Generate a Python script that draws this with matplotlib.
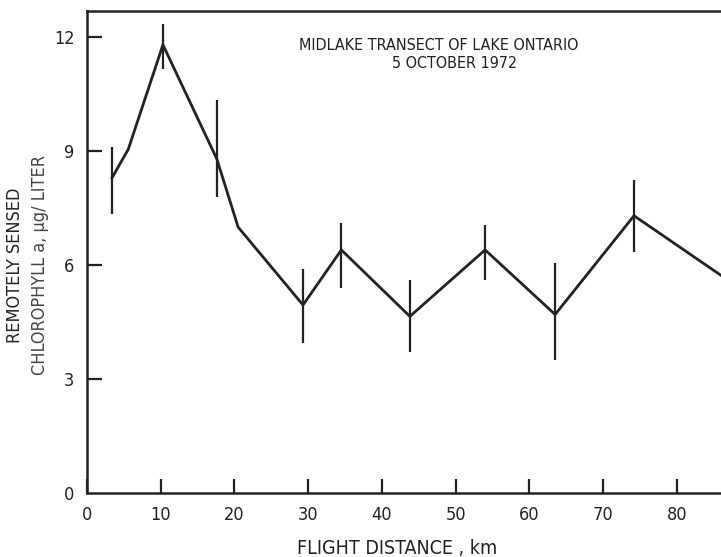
import matplotlib
matplotlib.use('Agg')
import matplotlib.pyplot as plt

# traced line (flight distance km, chlorophyll ug/l)
line_km = [3.4, 5.6, 10.3, 17.6, 20.5, 29.3, 34.5, 43.8, 54.0, 63.5, 74.2, 86.0]
line_chl = [8.3, 9.05, 11.8, 8.8, 7.0, 4.95, 6.4, 4.65, 6.4, 4.7, 7.3, 5.73]

# error bars at the measured stations
bar_km = [3.4, 10.3, 17.6, 29.3, 34.5, 43.8, 54.0, 63.5, 74.2]
bar_hi = [9.1, 12.35, 10.35, 5.9, 7.1, 5.6, 7.05, 6.05, 8.25]
bar_lo = [7.35, 11.15, 7.8, 3.95, 5.4, 3.7, 5.6, 3.5, 6.35]

xticks = [0, 10, 20, 30, 40, 50, 60, 70, 80]
yticks = [0, 3, 6, 9, 12]

plt.rcParams['font.family'] = ['DejaVu Sans']
plt.rcParams['font.stretch'] = 'condensed'
ink = '#222222'

fig = plt.figure(figsize=(7.21, 5.57), dpi=100)
ax = fig.add_axes([87 / 721, 1 - 493 / 557, 1 - 87 / 721, (493 - 11) / 557])

ax.plot(line_km, line_chl, color=ink, lw=2.0, solid_joinstyle='miter')
ax.vlines(bar_km, bar_lo, bar_hi, color=ink, lw=1.6)

ax.set_xlim(0, 86)
ax.set_ylim(0, 12.69)
ax.set_xticks(xticks)
ax.set_yticks(yticks)
ax.spines['right'].set_visible(False)
for s in ['left', 'bottom', 'top']:
    ax.spines[s].set_linewidth(1.8)
    ax.spines[s].set_color(ink)
ax.tick_params(axis='y', direction='in', length=11, width=1.6, pad=9,
               labelsize=13, colors=ink)
ax.tick_params(axis='x', direction='in', length=10, width=1.6, pad=9,
               labelsize=13, colors=ink)
# no y tick drawn at the origin
ax.yaxis.get_major_ticks()[0].tick1line.set_visible(False)

fs = 11.5
fig.text(439 / 721, 1 - 46 / 557, 'MIDLAKE TRANSECT OF LAKE ONTARIO',
         ha='center', va='center', fontsize=fs, color=ink)
fig.text(455 / 721, 1 - 63 / 557, '5 OCTOBER 1972',
         ha='center', va='center', fontsize=fs, color=ink)
fig.text(397 / 721, 1 - 548 / 557, 'FLIGHT DISTANCE , km',
         ha='center', va='center', fontsize=14, color=ink)
fig.text(15 / 721, 1 - 265 / 557, 'REMOTELY SENSED', rotation=90,
         ha='center', va='center', fontsize=13, color=ink)
fig.text(40 / 721, 1 - 265 / 557, 'CHLOROPHYLL a, \u00b5g/ LITER', rotation=90,
         ha='center', va='center', fontsize=13, color='#444444')

fig.savefig('out.png', dpi=100)
